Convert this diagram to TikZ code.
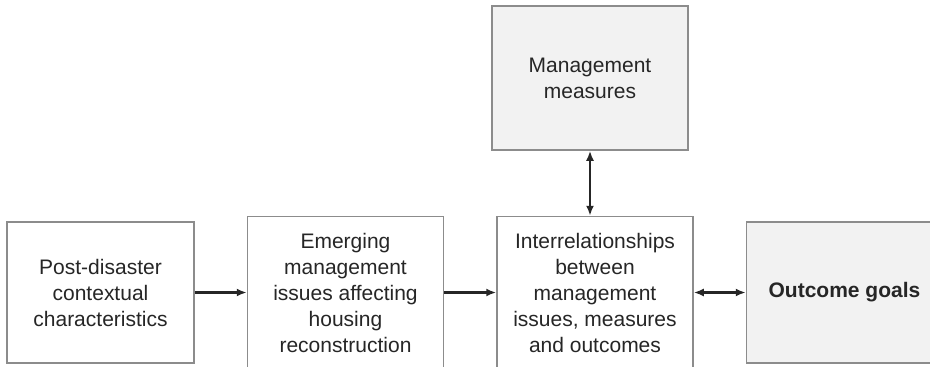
\documentclass[tikz,border=0pt]{standalone}
\usepackage{fontspec}
\setmainfont{Liberation Sans}
\usetikzlibrary{positioning, arrows.meta}
\tikzset{>={Latex[length=10pt,width=8pt]}}

\begin{document}
\begin{tikzpicture}[
    font=\fontsize{21}{26}\selectfont,
    box/.style={draw=black!45, line width=1.5pt, align=center,
                text=black!85, inner sep=2pt, fill=white},
    shaded/.style={box, fill=black!5},
    link/.style={->, line width=2.4pt, black!85},
  ]
  \useasboundingbox (0,0) rectangle (930pt,-367pt);
  \node[box, minimum width=187pt, minimum height=141pt] (post) at (100.5pt,-292.5pt)
    {Post-disaster\\contextual\\characteristics};
  \node[box, minimum width=196pt, minimum height=152pt, right=52pt of post] (emerge)
    {Emerging\\management\\issues affecting\\housing\\reconstruction};
  \node[box, minimum width=196pt, minimum height=152pt, right=52pt of emerge] (inter)
    {Interrelationships\\between\\management\\issues, measures\\and outcomes};
  \node[shaded, minimum width=196pt, minimum height=141pt, right=52pt of inter,
        font=\fontsize{21}{26}\selectfont\bfseries] (goals) {Outcome goals};
  \node[shaded, minimum width=196pt, minimum height=144pt, above=65pt of inter,
        xshift=-5pt] (measures) {Management\\measures};
  \draw[link] (post) -- (emerge);
  \draw[link] (emerge) -- (inter);
  \draw[link, <->] (inter) -- (goals);
  \draw[link, <->] (measures.south) -- (measures.south |- inter.north);
\end{tikzpicture}
\end{document}
